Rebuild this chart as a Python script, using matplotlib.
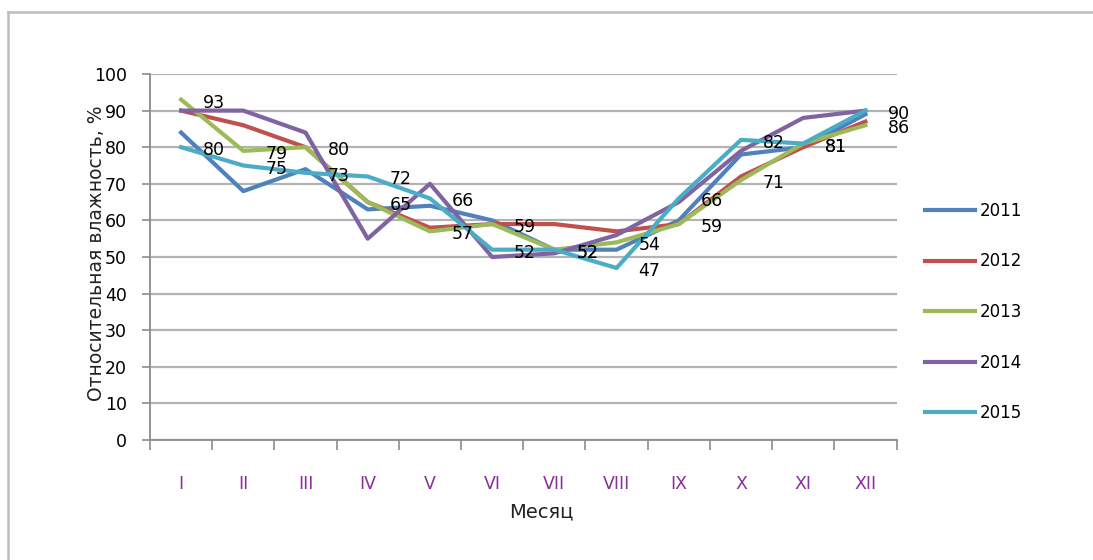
import matplotlib
matplotlib.use('Agg')
import matplotlib.pyplot as plt
from matplotlib.lines import Line2D
import numpy as np

months = ['I', 'II', 'III', 'IV', 'V', 'VI', 'VII', 'VIII', 'IX', 'X', 'XI', 'XII']
years = ['2011', '2012', '2013', '2014', '2015']
h2011 = [84, 68, 74, 63, 64, 60, 52, 52, 60, 78, 80, 89]
h2012 = [90, 86, 80, 65, 58, 59, 59, 57, 59, 72, 80, 87]
h2013 = [93, 79, 80, 65, 57, 59, 52, 54, 59, 71, 81, 86]
h2014 = [90, 90, 84, 55, 70, 50, 51, 56, 65, 79, 88, 90]
h2015 = [80, 75, 73, 72, 66, 52, 52, 47, 66, 82, 81, 90]
yticks = list(range(0, 101, 10))

series = [h2011, h2012, h2013, h2014, h2015]
colors = ['#4F81BD', '#C0504D', '#9BBB59', '#8064A2', '#4BACC6']
labeled = [False, False, True, False, True]

W, H = 1093, 560
fig = plt.figure(figsize=(W / 100, H / 100), dpi=100)
fig.patch.set_facecolor('white')

# outer chart frame
fig.add_artist(Line2D([8 / W, 1.0], [1 - 12 / H, 1 - 12 / H], transform=fig.transFigure,
                      color='#bdbdbd', lw=1.8))
fig.add_artist(Line2D([8 / W, 8 / W], [0, 1 - 12 / H], transform=fig.transFigure,
                      color='#bdbdbd', lw=1.8))

ax = fig.add_axes([150 / W, 1 - 440 / H, (896.5 - 150) / W, (440 - 74) / H])
x = np.arange(len(months))

for vals, c, lab, yr in zip(series, colors, labeled, years):
    ax.plot(x, vals, color=c, lw=3, label=yr, zorder=3)

for vals, c, lab in zip(series, colors, labeled):
    if lab:
        for xi, v in zip(x, vals):
            ax.annotate(str(v), (xi, v), xytext=(22, -3), textcoords='offset pixels',
                        ha='left', va='center', fontsize=12.5, color='black', zorder=5)

ax.set_xlim(-0.5, len(months) - 0.5)
ax.set_ylim(0, 100)
ax.set_yticks(yticks)
ax.set_yticklabels([str(t) for t in yticks], fontsize=12.5, color='black')
ax.yaxis.grid(True, color='#b3b3b3', lw=1.6, zorder=0)
ax.set_axisbelow(True)

ax.set_xticks(np.arange(-0.5, len(months), 1))
ax.set_xticklabels([])
ax.set_xticks(x, minor=True)
ax.set_xticklabels(months, minor=True, fontsize=12.5, color='#8a2f9a')
ax.tick_params(axis='x', which='major', direction='out', length=7.2, width=1.2, color='#8c8c8c')
ax.tick_params(axis='x', which='minor', length=0, pad=25.5)
ax.tick_params(axis='y', direction='out', length=5.8, width=1.2, color='#8c8c8c', pad=11)

for s in ['top', 'right']:
    ax.spines[s].set_visible(False)
for s in ['left', 'bottom']:
    ax.spines[s].set_color('#8c8c8c')
    ax.spines[s].set_linewidth(1.3)

fig.text(97 / W, 1 - 253 / H, 'Относительная влажность, %', rotation=90,
         ha='center', va='center', fontsize=13.5, color='#222222')
fig.text(541 / W, 1 - 512 / H, 'Месяц', ha='center', va='center', fontsize=14, color='#222222')

handles = [Line2D([0], [0], color=c, lw=3) for c in colors]
fig.legend(handles, years, loc='upper left', bbox_to_anchor=(925 / W, 1 - 202 / H),
           frameon=False, fontsize=12, borderpad=0, borderaxespad=0,
           handlelength=3.0, handletextpad=0.3, labelspacing=1.95)

fig.savefig('out.png', dpi=100, facecolor='white')
